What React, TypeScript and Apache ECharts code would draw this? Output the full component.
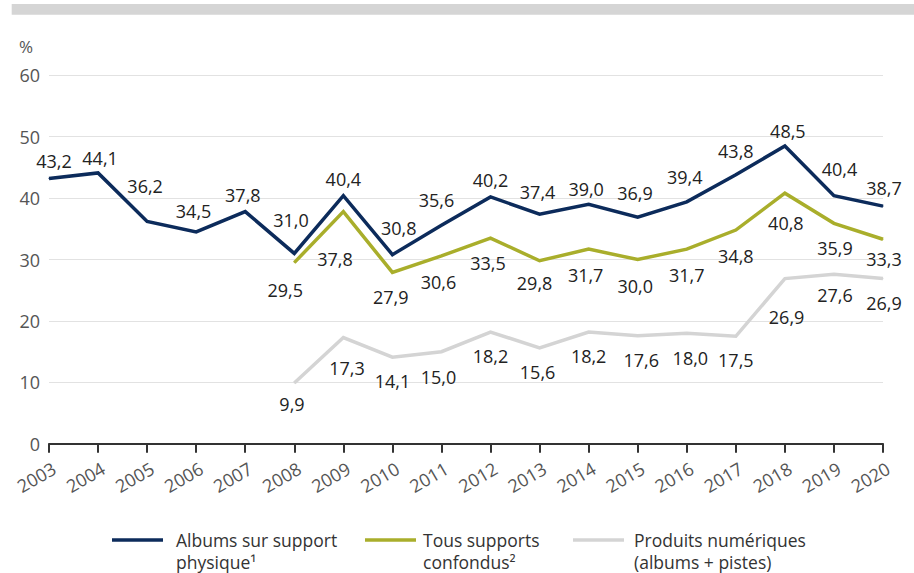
import React, { useEffect, useRef } from "react";
import * as echarts from "echarts";

const years = ["2003", "2004", "2005", "2006", "2007", "2008", "2009", "2010", "2011", "2012", "2013", "2014", "2015", "2016", "2017", "2018", "2019", "2020"];
const yTicks = [0, 10, 20, 30, 40, 50, 60];

const physical = [43.2, 44.1, 36.2, 34.5, 37.8, 31.0, 40.4, 30.8, 35.6, 40.2, 37.4, 39.0, 36.9, 39.4, 43.8, 48.5, 40.4, 38.7];
const allSupports = [null, null, null, null, null, 29.5, 37.8, 27.9, 30.6, 33.5, 29.8, 31.7, 30.0, 31.7, 34.8, 40.8, 35.9, 33.3];
const digital = [null, null, null, null, null, 9.9, 17.3, 14.1, 15.0, 18.2, 15.6, 18.2, 17.6, 18.0, 17.5, 26.9, 27.6, 26.9];

const seriesNames = ["Albums sur support\nphysique¹", "Tous supports\nconfondus²", "Produits numériques\n(albums + pistes)"];

// label placement (presentation only)
const physicalLabelOffset = [[5, -17.5], [2, -14.6], [-2, -35], [-2.6, -20.6], [-2.4, -17], [-3.3, -33], [0, -16.7], [6.3, -26.6], [-5, -25.4], [0, -17.2], [-2, -22.4], [-2.5, -15], [-2.8, -24.5], [-2, -24.8], [0, -24], [3, -15.2], [5.5, -26.4], [1, -18.4]];
const allLabelOffset = [null, null, null, null, null, [-9, 26.9], [-8.3, 46.9], [-1.7, 24.3], [-3, 26.5], [-2.6, 25.3], [-5, 22.5], [-3, 25.9], [-2.5, 26.2], [0, 25.9], [0, 26.2], [1, 29.5], [1, 25], [1, 20]];
const digitalLabelOffset = [null, null, null, null, null, [-2.3, 20.7], [3.6, 30.8], [0, 24], [-3, 25.3], [0, 24], [-2, 23.7], [0, 24], [3.5, 24.3], [3.6, 25.1], [0, 23.7], [1.7, 38.7], [1, 20.7], [1, 24.7]];

const colors = ["#0c2b5b", "#a9ae2b", "#d4d4d4"];
const FONT = '"Open Sans", "Noto Sans", sans-serif';

function toItems(values: (number | null)[], offsets: (number[] | null)[]) {
  return values.map((v, i) =>
    v === null ? null : { value: v, label: { offset: offsets[i] || [0, 0] } }
  );
}

function makeSeries(name: string, values: (number | null)[], offsets: (number[] | null)[], color: string) {
  return {
    name,
    type: "line",
    data: toItems(values, offsets),
    symbol: "circle",
    symbolSize: 1,
    showSymbol: true,
    itemStyle: { color },
    lineStyle: { color, width: 3.5, join: "miter" },
    emphasis: { disabled: true },
    label: {
      show: true,
      position: "inside",
      color: "#222",
      fontSize: 18,
      fontFamily: FONT,
      formatter: (p: any) => Number(p.value).toFixed(1).replace(".", ","),
    },
  };
}

export default function App() {
  const ref = useRef<HTMLDivElement>(null);
  useEffect(() => {
    if (!ref.current) return;
    const chart = echarts.init(ref.current, null, { renderer: "svg" });
    const legendX = [112, 365, 573];
    const legendTextX = [176, 423, 634];
    const legendGraphics: any[] = [];
    seriesNames.forEach((n, i) => {
      legendGraphics.push({
        type: "rect",
        shape: { x: legendX[i], y: 538.25, width: 51, height: 3.5 },
        style: { fill: colors[i] },
      });
      legendGraphics.push({
        type: "text",
        x: legendTextX[i],
        y: 529,
        style: {
          text: n,
          fill: "#333",
          font: `17.5px ${FONT}`,
          lineHeight: 22,
          verticalAlign: "top",
          align: "left",
        },
      });
    });
    chart.setOption({
      animation: false,
      grid: { left: 49, right: 31, top: 75.3, bottom: 129.2, outerBoundsMode: "none", containLabel: false },
      xAxis: {
        type: "category",
        data: years,
        boundaryGap: false,
        axisLine: { show: true, lineStyle: { color: "#333", width: 2 } },
        axisTick: { show: true, length: 9, lineStyle: { color: "#333", width: 2 } },
        axisLabel: {
          interval: 0,
          rotate: 30,
          margin: 26,
          color: "#555",
          fontSize: 18,
          fontFamily: FONT,
          padding: [0, -6, 0, 0],
        },
        splitLine: { show: false },
      },
      yAxis: {
        type: "value",
        min: yTicks[0],
        max: yTicks[yTicks.length - 1],
        interval: 10,
        axisLine: { show: false },
        axisTick: { show: false },
        axisLabel: { margin: 9, color: "#555", fontSize: 18, fontFamily: FONT },
        splitLine: { show: true, lineStyle: { color: "#e2e2e2", width: 1 } },
      },
      series: [
        makeSeries(seriesNames[0], physical, physicalLabelOffset, colors[0]),
        makeSeries(seriesNames[1], allSupports, allLabelOffset, colors[1]),
        makeSeries(seriesNames[2], digital, digitalLabelOffset, colors[2]),
      ].reverse(),
      graphic: [
        {
          type: "rect",
          shape: { x: 11.7, y: 4, width: 903, height: 10.7 },
          style: { fill: "#d5d5d5" },
        },
        {
          type: "text",
          x: 19,
          y: 46,
          style: { text: "%", fill: "#555", font: `17px ${FONT}`, verticalAlign: "middle", align: "left" },
        },
        ...legendGraphics,
      ],
    });
    return () => chart.dispose();
  }, []);
  return (
    <div
      ref={ref}
      style={{ position: "fixed", left: 0, top: 0, width: 914, height: 573, background: "#fff" }}
    />
  );
}
